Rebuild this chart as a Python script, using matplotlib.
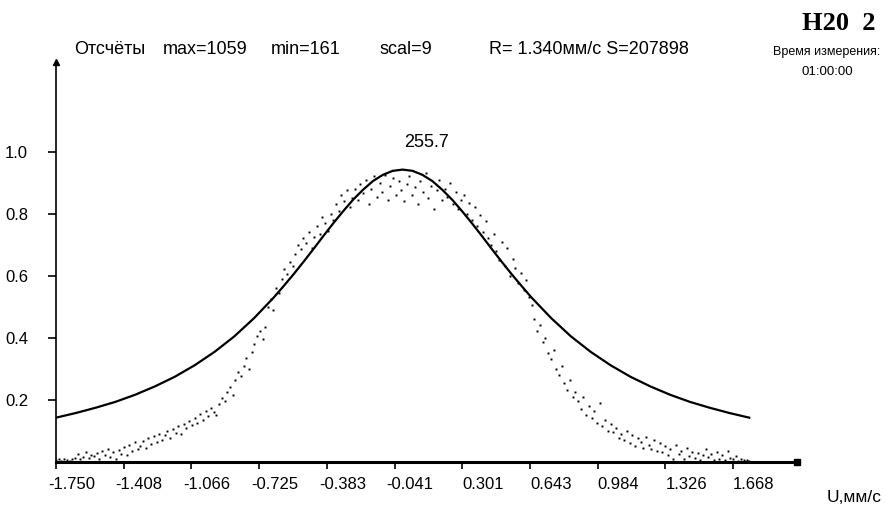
import numpy as np
import matplotlib
matplotlib.use("Agg")
import matplotlib.pyplot as plt
import matplotlib.transforms as mtransforms

# --- данные спектра (отсчёты, нормированные), 256 каналов от -1.75 до 1.75 мм/с ---
counts = [
    0.004, 0.008, 0.002, 0.010, 0.006, 0.003, 0.009, 0.012, 0.025, 0.008, 0.015, 0.030, 0.012, 0.022, 0.018, 0.028,
    0.010, 0.035, 0.020, 0.042, 0.015, 0.030, 0.008, 0.038, 0.025, 0.048, 0.020, 0.055, 0.035, 0.062, 0.040, 0.050,
    0.068, 0.045, 0.075, 0.058, 0.082, 0.062, 0.090, 0.070, 0.085, 0.100, 0.078, 0.105, 0.092, 0.115, 0.088, 0.120,
    0.108, 0.130, 0.118, 0.140, 0.125, 0.155, 0.135, 0.165, 0.148, 0.172, 0.160, 0.150, 0.185, 0.205, 0.195, 0.225,
    0.240, 0.215, 0.262, 0.290, 0.275, 0.310, 0.335, 0.300, 0.355, 0.380, 0.405, 0.420, 0.395, 0.435, 0.500, 0.525,
    0.490, 0.560, 0.545, 0.590, 0.620, 0.605, 0.645, 0.630, 0.670, 0.700, 0.685, 0.720, 0.705, 0.740, 0.690, 0.725,
    0.760, 0.735, 0.790, 0.770, 0.745, 0.800, 0.780, 0.830, 0.810, 0.860, 0.840, 0.875, 0.820, 0.850, 0.880, 0.845,
    0.895, 0.865, 0.910, 0.830, 0.880, 0.920, 0.855, 0.900, 0.870, 0.925, 0.845, 0.890, 0.915, 0.860, 0.905, 0.875,
    0.840, 0.895, 0.920, 0.860, 0.885, 0.830, 0.905, 0.870, 0.930, 0.850, 0.890, 0.815, 0.875, 0.910, 0.845, 0.880,
    0.855, 0.900, 0.830, 0.870, 0.815, 0.845, 0.860, 0.800, 0.835, 0.780, 0.820, 0.760, 0.795, 0.740, 0.775, 0.720,
    0.700, 0.735, 0.680, 0.650, 0.710, 0.630, 0.690, 0.600, 0.655, 0.625, 0.575, 0.610, 0.555, 0.585, 0.530, 0.505,
    0.460, 0.420, 0.440, 0.385, 0.400, 0.350, 0.330, 0.360, 0.300, 0.280, 0.310, 0.255, 0.230, 0.265, 0.210, 0.225,
    0.195, 0.170, 0.210, 0.150, 0.180, 0.140, 0.165, 0.125, 0.190, 0.115, 0.135, 0.100, 0.120, 0.095, 0.110, 0.075,
    0.090, 0.070, 0.100, 0.060, 0.085, 0.050, 0.075, 0.065, 0.045, 0.080, 0.055, 0.040, 0.070, 0.035, 0.060, 0.030,
    0.050, 0.020, 0.040, 0.010, 0.055, 0.025, 0.035, 0.008, 0.045, 0.018, 0.030, 0.012, 0.028, 0.005, 0.020, 0.040,
    0.015, 0.025, 0.006, 0.030, 0.010, 0.022, 0.004, 0.035, 0.012, 0.008, 0.018, 0.003, 0.010, 0.005, 0.007, 0.002,
]
velocity = np.linspace(-1.75, 1.75, len(counts))

# огибающая (аппроксимация)
fit_v = [-1.75, -1.65, -1.55, -1.45, -1.35, -1.25, -1.15, -1.05, -0.95, -0.85, -0.75, -0.65,
         -0.60, -0.55, -0.50, -0.45, -0.40, -0.35, -0.30, -0.25, -0.20, -0.15, -0.10, -0.05,
         0.00, 0.05, 0.10, 0.15, 0.20, 0.25, 0.30, 0.35, 0.40, 0.45, 0.50, 0.55, 0.60,
         0.65, 0.75, 0.85, 0.95, 1.05, 1.15, 1.25, 1.35, 1.45, 1.55, 1.65, 1.75]
fit_y = [0.142, 0.157, 0.174, 0.193, 0.216, 0.243, 0.274, 0.311, 0.354, 0.404, 0.463, 0.530,
         0.567, 0.605, 0.645, 0.686, 0.728, 0.769, 0.808, 0.845, 0.877, 0.905, 0.925, 0.938,
         0.942, 0.938, 0.925, 0.905, 0.877, 0.845, 0.808, 0.769, 0.728, 0.686, 0.645, 0.605, 0.567,
         0.530, 0.463, 0.404, 0.354, 0.311, 0.274, 0.243, 0.216, 0.193, 0.174, 0.157, 0.142]

xticks = [-1.750, -1.408, -1.066, -0.725, -0.383, -0.041, 0.301, 0.643, 0.984, 1.326, 1.668]
xtick_labels = ["-1.750", "-1.408", "-1.066", "-0.725", "-0.383", "-0.041",
                "0.301", "0.643", "0.984", "1.326", "1.668"]
yticks = [0.2, 0.4, 0.6, 0.8, 1.0]
ytick_labels = ["0.2", "0.4", "0.6", "0.8", "1.0"]

peak_label = "255.7"
header = [("Отсчёты", 74), ("max=1059", 163), ("min=161", 271), ("scal=9", 380),
          ("R= 1.340мм/с S=207898", 489)]

FONT = ["Liberation Sans", "DejaVu Sans"]
W, H = 886, 515

fig = plt.figure(figsize=(W / 100, H / 100), dpi=100)
ax = fig.add_axes([56 / W, (H - 461.7) / H, 741 / W, 399.7 / H])
ax.set_xlim(-1.75, 1.991)
ax.set_ylim(0, 1.289)

ax.plot(fit_v, fit_y, color="black", lw=1.6, solid_joinstyle="round")
ax.plot(velocity, counts, ls="none", marker="s", ms=1.4, mew=0, color="black")

for s in ["top", "right"]:
    ax.spines[s].set_visible(False)
ax.spines["left"].set_linewidth(1.2)
ax.spines["bottom"].set_linewidth(2.2)

# стрелки осей
ax.plot(0, 1, marker="^", ms=5, color="black", transform=ax.transAxes, clip_on=False)
ax.plot(1, 0, marker="s", ms=4, color="black", transform=ax.transAxes, clip_on=False)

ax.set_xticks(xticks)
ax.set_xticklabels(xtick_labels, fontfamily=FONT, fontsize=12)
ax.set_yticks(yticks)
ax.set_yticklabels(ytick_labels, fontfamily=FONT, fontsize=12)
ax.tick_params(axis="x", direction="out", length=5, width=1.2, pad=6)
ax.tick_params(axis="y", direction="out", length=6, width=1.2, pad=14)

for lab in ax.get_xticklabels():
    lab.set_horizontalalignment("left")
    dx = -8 if lab.get_text().startswith("-") else 0
    lab.set_transform(lab.get_transform() +
                      mtransforms.ScaledTranslation(dx / 100, 0, fig.dpi_scale_trans))

ax.text(0.118, 1.031, peak_label, ha="center", va="center", fontfamily=FONT, fontsize=13)

for txt, x in header:
    fig.text(x / W, 1 - 50 / H, txt, ha="left", va="center", fontfamily=FONT, fontsize=13)

fig.text(802 / W, 1 - 24 / H, "H20  2", ha="left", va="center",
         fontfamily=["Liberation Serif", "DejaVu Serif"], fontweight="bold", fontsize=19)
fig.text(773 / W, 1 - 52 / H, "Время измерения:", ha="left", va="center",
         fontfamily=FONT, fontsize=9)
fig.text(802 / W, 1 - 72 / H, "01:00:00", ha="left", va="center",
         fontfamily=FONT, fontsize=9.5)
fig.text(827 / W, 1 - 497 / H, "U,мм/с", ha="left", va="center",
         fontfamily=FONT, fontsize=12.5)

fig.savefig("out.png", dpi=100, facecolor="white")
